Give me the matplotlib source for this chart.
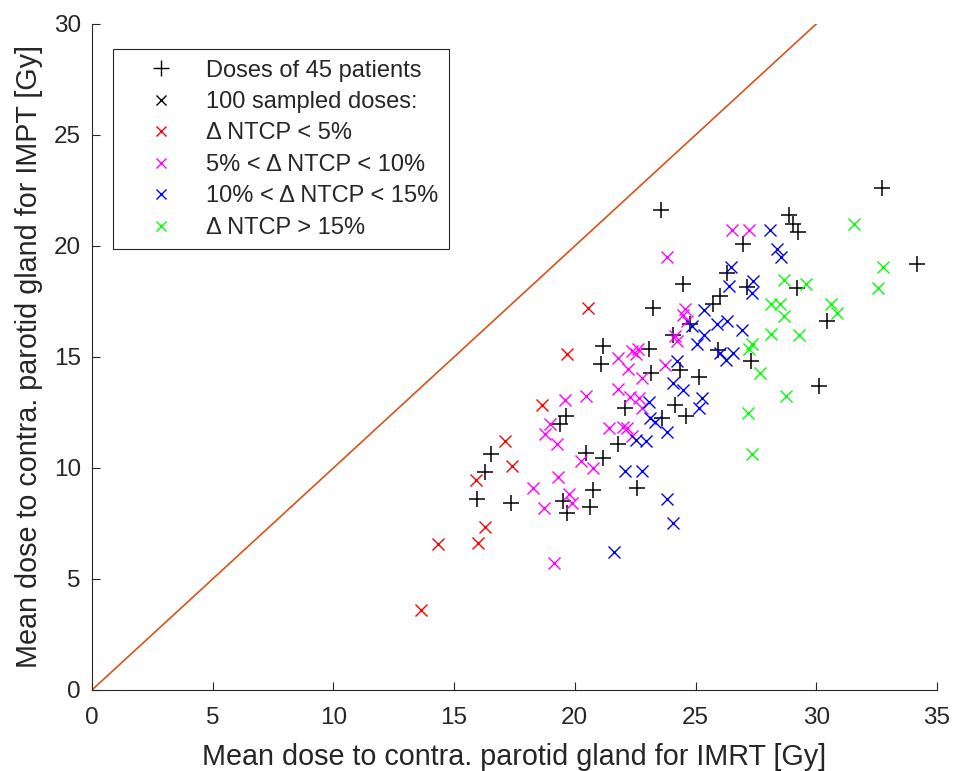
import matplotlib.pyplot as plt
from matplotlib.lines import Line2D

# doses of the 45 patients (IMRT, IMPT) [Gy]
pat_imrt = [16.54, 16.29, 15.95, 17.37, 19.64, 19.39, 20.47, 20.77, 19.52, 19.68, 20.64,
            23.25, 25.74, 21.18, 21.10, 23.08, 24.08, 25.94, 27.31, 23.16, 24.37, 25.15,
            22.09, 24.16, 24.62, 23.62, 21.80, 21.18, 22.59, 23.58, 26.98, 24.50, 26.32,
            27.14, 26.03, 32.74, 28.88, 29.05, 29.26, 34.19, 29.22, 30.46, 30.13, 24.79]
pat_impt = [10.64, 9.83, 8.58, 8.40, 12.35, 11.99, 10.69, 9.03, 8.53, 7.95, 8.26,
            17.2, 17.38, 15.5, 14.7, 15.36, 16.0, 15.3, 14.8, 14.3, 14.4, 14.1,
            12.7, 12.84, 12.35, 12.26, 11.1, 10.45, 9.1, 21.64, 20.07, 18.3, 18.77,
            18.14, 17.74, 22.6, 21.4, 21.0, 20.65, 19.2, 18.1, 16.6, 13.7, 16.5]

# sampled doses, grouped by delta NTCP
red_imrt = [18.65, 17.12, 17.41, 15.91, 16.29, 15.99, 14.34, 13.64, 20.56, 19.68]
red_impt = [12.84, 11.23, 10.1, 9.47, 7.32, 6.6, 6.56, 3.59, 17.2, 15.13]

mag_imrt = [18.98, 18.78, 19.28, 20.27, 20.77, 19.32, 18.28, 18.73, 19.77, 19.89, 19.15,
            19.60, 20.47, 24.58, 24.50, 24.66, 24.16, 24.25, 22.38, 22.63, 22.55, 21.80,
            22.21, 22.80, 23.75, 21.80, 22.30, 22.67, 22.80, 21.42, 22.01, 22.17, 22.38,
            26.53, 27.23, 23.83]
mag_impt = [11.99, 11.55, 11.1, 10.33, 10.0, 9.6, 9.1, 8.2, 8.84, 8.44, 5.7,
            13.07, 13.25, 17.15, 16.9, 16.6, 15.94, 15.7, 15.27, 15.36, 15.13, 14.95,
            14.46, 14.05, 14.64, 13.56, 13.2, 13.16, 12.7, 11.8, 11.85, 11.8, 11.45,
            20.74, 20.7, 19.5]

blue_imrt = [25.36, 25.90, 26.32, 26.93, 25.36, 25.07, 24.87, 26.03, 26.28, 26.57, 24.25,
             24.08, 24.50, 25.28, 25.15, 23.08, 23.12, 23.33, 23.83, 22.55, 22.96, 22.09,
             22.80, 23.83, 24.08, 21.63, 28.10, 28.39, 28.56, 26.49, 26.40, 27.39, 27.35]
blue_impt = [17.1, 16.48, 16.6, 16.2, 16.0, 15.6, 16.4, 15.2, 14.86, 15.18, 14.8,
             13.83, 13.5, 13.16, 12.7, 12.98, 12.26, 12.08, 11.6, 11.27, 11.23, 9.88,
             9.88, 8.58, 7.5, 6.2, 20.74, 19.85, 19.5, 19.04, 18.2, 18.4, 17.87]

green_imrt = [31.58, 32.78, 32.57, 28.67, 29.59, 28.14, 28.52, 28.67, 30.62, 30.87,
              28.14, 29.30, 27.35, 27.23, 27.68, 28.76, 27.18, 27.35]
green_impt = [21.0, 19.04, 18.1, 18.45, 18.28, 17.38, 17.38, 16.84, 17.38, 17.0,
              16.03, 15.99, 15.58, 15.36, 14.28, 13.25, 12.48, 10.64]

labels = ['Doses of 45 patients', '100 sampled doses:', '\u0394 NTCP < 5%',
          '5% < \u0394 NTCP < 10%', '10% < \u0394 NTCP < 15%', '\u0394 NTCP > 15%']

txt = '#262626'
plt.rcParams['font.family'] = ['Liberation Sans', 'DejaVu Sans']
plt.rcParams['text.color'] = txt

fig = plt.figure(figsize=(9.54, 7.71), dpi=100)
ax = fig.add_axes([0.0964, 0.1051, 0.8857, 0.8638])

ax.plot([0, 30], [0, 30], color='#D95319', lw=1.2)
ax.plot(pat_imrt, pat_impt, '+', color='black', ms=12, mew=1.1, ls='none')
ax.plot(red_imrt, red_impt, 'x', color='#FF0000', ms=8, mew=1, ls='none')
ax.plot(mag_imrt, mag_impt, 'x', color='#FF00FF', ms=8, mew=1, ls='none')
ax.plot(blue_imrt, blue_impt, 'x', color='#0000FF', ms=8, mew=1, ls='none')
ax.plot(green_imrt, green_impt, 'x', color='#00FF00', ms=8, mew=1, ls='none')

ax.set_xlim(0, 35)
ax.set_ylim(0, 30)
ax.set_xticks(range(0, 36, 5))
ax.set_yticks(range(0, 31, 5))
ax.spines['top'].set_visible(False)
ax.spines['right'].set_visible(False)
for s in ['left', 'bottom']:
    ax.spines[s].set_color(txt)
ax.tick_params(direction='in', labelsize=17.5, colors=txt, length=6)
ax.tick_params(axis='x', pad=12)
ax.tick_params(axis='y', pad=8)
ax.set_xlabel('Mean dose to contra. parotid gland for IMRT [Gy]', fontsize=20.7, color=txt, labelpad=10)
ax.set_ylabel('Mean dose to contra. parotid gland for IMPT [Gy]', fontsize=20.7, color=txt, labelpad=8)

handles = [Line2D([], [], marker='+', color='black', ms=12, mew=1, ls='none'),
           Line2D([], [], marker='x', color='black', ms=7, mew=1, ls='none'),
           Line2D([], [], marker='x', color='#FF0000', ms=7, mew=1, ls='none'),
           Line2D([], [], marker='x', color='#FF00FF', ms=7, mew=1, ls='none'),
           Line2D([], [], marker='x', color='#0000FF', ms=7, mew=1, ls='none'),
           Line2D([], [], marker='x', color='#00FF00', ms=7, mew=1, ls='none')]
leg = ax.legend(handles, labels, loc='upper left', bbox_to_anchor=(0.025, 0.9625),
                borderaxespad=0, fontsize=17, fancybox=False, framealpha=1,
                edgecolor=txt, labelspacing=0.4, handlelength=3.15, handletextpad=0.33,
                borderpad=0.45)
leg.get_frame().set_linewidth(0.8)

fig.savefig('out.png', dpi=100)
